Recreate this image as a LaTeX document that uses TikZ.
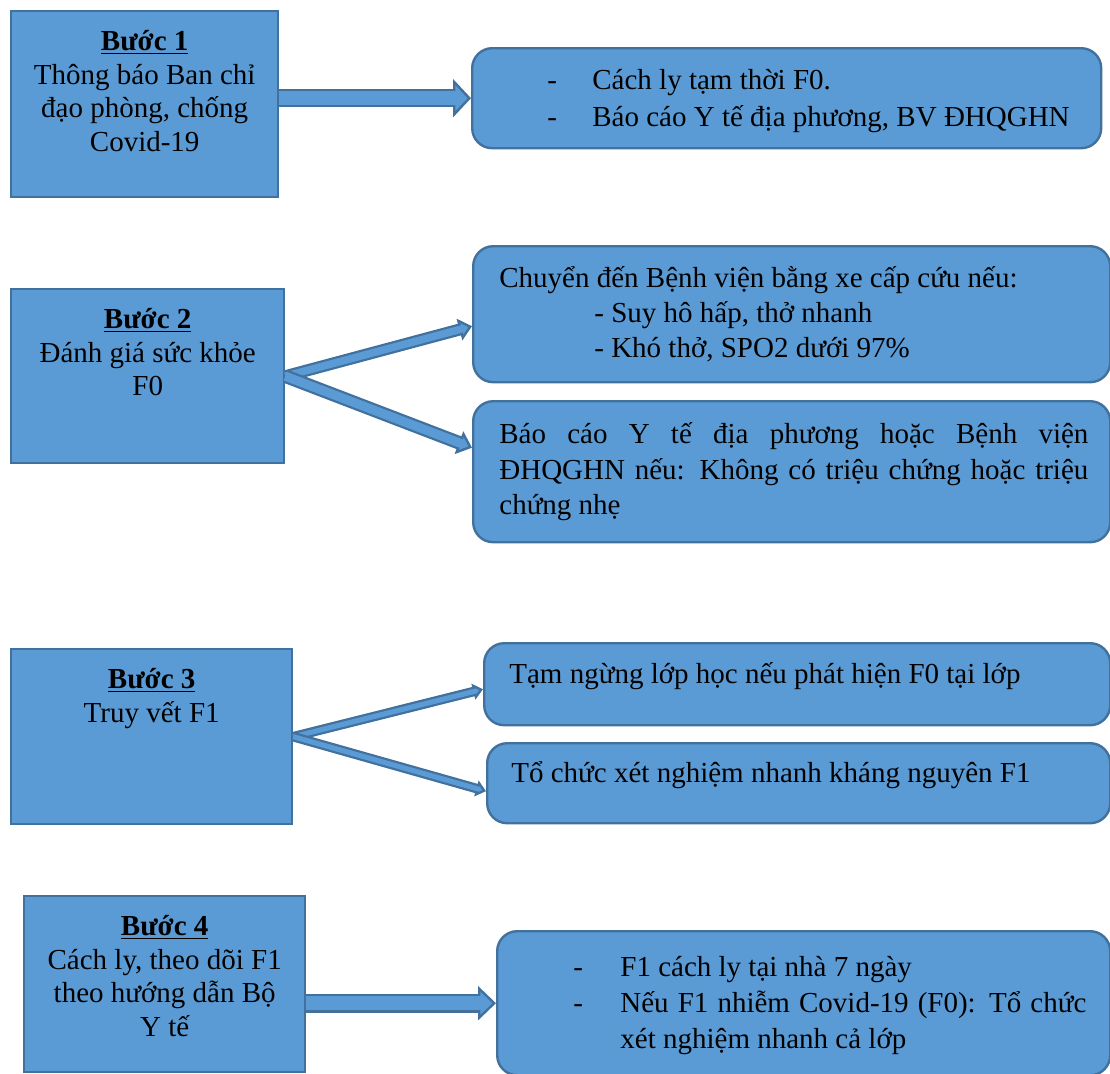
\documentclass[tikz,border=0pt]{standalone}
\usepackage{fontspec}
\setmainfont{Liberation Serif}
\usetikzlibrary{arrows.meta, positioning}
\definecolor{boxblue}{HTML}{5B9BD5}
\definecolor{edgeblue}{HTML}{41719C}
\tikzset{
  stepbox/.style={rectangle, draw=edgeblue, fill=boxblue, line width=1.2pt, anchor=north west, inner sep=0},
  actbox/.style={stepbox, rounded corners=10pt},
  boxtext/.style={inner sep=0, font=\fontsize{14.5}{16.8}\selectfont},
  blockarrow/.style n args={3}{
    preaction={draw=edgeblue, line width=#1+2.4pt, -, shorten >=#3-1pt},
    postaction={draw=boxblue, line width=#1, -, shorten >=#3-1.6pt},
    draw=boxblue, line width=#1,
    -{Triangle[length=#3, width=#2, fill=boxblue, color=edgeblue, line width=1.2pt]}}
}

\begin{document}
\begin{tikzpicture}[x=0.5pt, y=-0.5pt]
  \useasboundingbox (0,0) rectangle (1110,1073);
  \clip (0,0) rectangle (1110,1073);

  % buoc 1
  \node[stepbox, minimum width=133.5pt, minimum height=93pt](b1) at (10,10){};
  \node[boxtext, align=center, below=10pt of b1.north](t1){\underline{\textbf{Bước 1}}\\Thông báo Ban chỉ\\đạo phòng, chống\\Covid-19};
  \node[actbox, minimum width=314.5pt, minimum height=50pt](r1) at (471,47){};
  \node[boxtext, align=left, right=38pt of r1.west, yshift=-1.5pt](s1){\makebox[22.5pt][l]{-}Cách ly tạm thời F0.\\[1.9pt]\makebox[22.5pt][l]{-}Báo cáo Y tế địa phương, BV ĐHQGHN};
  \draw[blockarrow={6.8pt}{19pt}{9pt}](b1.east |- r1.west)--(r1.west);

  % buoc 2
  \node[stepbox, minimum width=136.5pt, minimum height=87pt](b2) at (10,288){};
  \node[boxtext, align=center, below=10pt of b2.north](t2){\underline{\textbf{Bước 2}}\\Đánh giá sức khỏe\\F0};
  \node[actbox, minimum width=318.5pt, minimum height=68pt](r2a) at (472,245){};
  \node[boxtext, align=left, right=13.5pt of r2a.west](s2a){Chuyển đến Bệnh viện bằng xe cấp cứu nếu:\\[0.8pt]\hspace*{47.5pt}- Suy hô hấp, thở nhanh\\[0.8pt]\hspace*{47.5pt}- Khó thở, SPO2 dưới 97\%};
  \node[actbox, minimum width=318.5pt, minimum height=70.5pt](r2b) at (472,400){};
  \node[boxtext, align=left, right=13.5pt of r2b.west](s2b){\makebox[294.5pt][s]{Báo cáo Y tế địa phương hoặc Bệnh viện}\\[0.8pt]\makebox[294.5pt][s]{ĐHQGHN nếu: Không có triệu chứng hoặc triệu}\\[0.8pt]chứng nhẹ};
  \draw[blockarrow={3.6pt}{11pt}{6.5pt}](b2.east)--([yshift=-6pt]r2a.west);
  \draw[blockarrow={4.4pt}{12pt}{7pt}](b2.east)--([yshift=12pt]r2b.west);

  % buoc 3
  \node[stepbox, minimum width=140.5pt, minimum height=87.5pt](b3) at (10,648){};
  \node[boxtext, align=center, below=10pt of b3.north](t3){\underline{\textbf{Bước 3}}\\Truy vết F1};
  \node[actbox, minimum width=313pt, minimum height=41pt](r3a) at (483,642){};
  \node[boxtext, align=left, right=13pt of r3a.west, yshift=4pt](s3a){Tạm ngừng lớp học nếu phát hiện F0 tại lớp};
  \node[actbox, minimum width=311.5pt, minimum height=40pt](r3b) at (486,742){};
  \node[boxtext, align=left, right=12.5pt of r3b.west, yshift=4pt](s3b){Tổ chức xét nghiệm nhanh kháng nguyên F1};
  \draw[blockarrow={2.4pt}{8pt}{5pt}](b3.east)--([yshift=-2.5pt]r3a.west);
  \draw[blockarrow={2.4pt}{8pt}{5pt}](b3.east)--([yshift=-4pt]r3b.west);

  % buoc 4
  \node[stepbox, minimum width=140.5pt, minimum height=88pt](b4) at (23,895){};
  \node[boxtext, align=center, below=10pt of b4.north](t4){\underline{\textbf{Bước 4}}\\Cách ly, theo dõi F1\\theo hướng dẫn Bộ\\Y tế};
  \node[actbox, minimum width=306.5pt, minimum height=72pt](r4) at (496,930){};
  \node[boxtext, align=left, right=38.5pt of r4.west, yshift=-1pt](s4){\makebox[23.5pt][l]{-}F1 cách ly tại nhà 7 ngày\\[1.2pt]\makebox[23.5pt][l]{-}\makebox[233pt][s]{Nếu F1 nhiễm Covid-19 (F0): Tổ chức}\\[1.2pt]\hspace*{23.5pt}xét nghiệm nhanh cả lớp};
  \draw[blockarrow={7pt}{17pt}{9pt}](b4.east |- r4.west)--(r4.west);
\end{tikzpicture}
\end{document}
